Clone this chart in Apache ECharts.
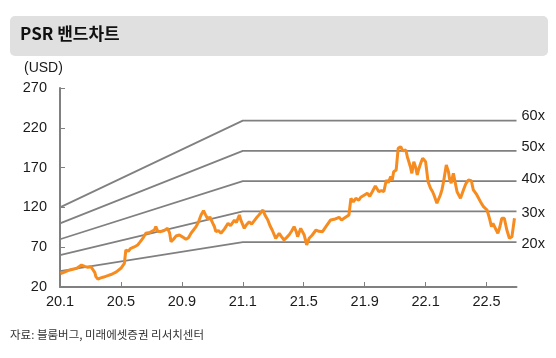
<!DOCTYPE html>
<html><head><meta charset="utf-8">
<script src="https://cdn.jsdelivr.net/npm/echarts@6/dist/echarts.min.js"></script>
<style>html,body{margin:0;padding:0;background:#fff}#c{width:556px;height:358px}</style>
</head><body><div id="c"></div>
<script>
// ---- data ----
const dates = [
'2020-01-02','2020-01-09','2020-01-17','2020-01-25','2020-02-04','2020-02-13','2020-02-19','2020-02-25','2020-03-02','2020-03-06',
'2020-03-10','2020-03-12','2020-03-16','2020-03-22','2020-03-28','2020-04-05','2020-04-13','2020-04-22','2020-05-01','2020-05-08',
'2020-05-11','2020-05-16','2020-05-21','2020-05-27','2020-06-04','2020-06-08','2020-06-14','2020-06-20','2020-06-28','2020-07-02',
'2020-07-07','2020-07-10','2020-07-14','2020-07-20','2020-07-27','2020-08-03','2020-08-07','2020-08-10','2020-08-15','2020-08-20',
'2020-08-27','2020-09-02','2020-09-09','2020-09-14','2020-09-19','2020-09-29','2020-10-04','2020-10-09','2020-10-14','2020-10-18',
'2020-10-23','2020-10-27','2020-11-02','2020-11-05','2020-11-08','2020-11-13','2020-11-18','2020-11-25','2020-12-02','2020-12-07',
'2020-12-15','2020-12-19','2020-12-25','2020-12-28','2021-01-04','2021-01-08','2021-01-14','2021-01-19','2021-01-28','2021-02-02',
'2021-02-10','2021-02-14','2021-02-19','2021-02-23','2021-02-27','2021-03-06','2021-03-13','2021-03-18','2021-03-23','2021-03-28',
'2021-04-02','2021-04-07','2021-04-12','2021-04-16','2021-04-19','2021-04-25','2021-05-02','2021-05-07','2021-05-12','2021-05-18',
'2021-05-26','2021-06-01','2021-06-08','2021-06-16','2021-06-24','2021-07-01','2021-07-11','2021-07-16','2021-07-21','2021-07-31',
'2021-08-04','2021-08-09','2021-08-14','2021-08-20','2021-08-24','2021-08-30','2021-09-06','2021-09-11','2021-09-16','2021-09-22',
'2021-09-29','2021-10-04','2021-10-09','2021-10-14','2021-10-18','2021-10-23','2021-10-26','2021-10-29','2021-11-03','2021-11-07',
'2021-11-12','2021-11-16','2021-11-22','2021-11-25','2021-12-01','2021-12-04','2021-12-08','2021-12-12','2021-12-15','2021-12-18',
'2021-12-22','2021-12-26','2022-01-01','2022-01-06','2022-01-11','2022-01-15','2022-01-18','2022-01-24','2022-01-31','2022-02-03',
'2022-02-06','2022-02-11','2022-02-15','2022-02-17','2022-02-20','2022-02-24','2022-03-03','2022-03-10','2022-03-16','2022-03-21',
'2022-03-26','2022-04-01','2022-04-05','2022-04-12','2022-04-19','2022-04-25','2022-05-02','2022-05-07','2022-05-11','2022-05-14',
'2022-05-18','2022-05-24','2022-05-28','2022-06-01','2022-06-06','2022-06-11','2022-06-16','2022-06-21','2022-06-26'
];
const prices = [
37,38.5,40.5,42,43.5,47.6,46,44.7,45.5,44.7,
38,33,30,31.5,32.5,34.2,36,39,43.5,49.8,
66.5,65,68.6,70,72.8,76,81,87.5,88.5,90,
91.6,95.8,90,89.5,91,93.7,88,76.9,80,84,
85.3,83,79.9,82,87.5,95.8,102,110.5,115.9,111,
105,108,100,96,89.5,91,87.5,93,100,97,
104,101,110.5,104,93.7,98,102,99,106.3,110,
116.7,110,104.2,97,91.6,81.2,87.5,83,79,82,
85.3,90,95.8,90,83.2,93.7,85.3,72.8,81.2,85,
91.6,90,89.5,97,104.2,105,107.6,104,106.3,110.5,
131.4,127,131.4,129,132.7,135,137.7,134,139.7,146.9,
139.7,141,139.7,154.4,151,158.6,154,164.8,167,194.2,
196.3,191,192.1,183.7,171.1,162.8,177.4,170,160.7,168,
175.4,181.7,177.4,152.3,144,140,135.6,125.2,135.6,142,
152.3,173.3,164.8,156,150.3,162.8,139.7,131.4,141.9,150,
154.4,153.5,141.9,135.6,127.2,120.9,116.7,106.3,95.8,100,
97.9,87.5,95,106.3,106.3,91.6,81.2,83.2,106.3
];
const bandNames = ['60x','50x','40x','30x','20x'];
const bandDates = ['2020-01-01','2021-01-01','2022-06-30'];
const bandStartValues = [120,100,80,60,40];
const bandFlatValues = [229,191,153,115,76.5];
const xTickLabels = ['20.1','20.5','20.9','21.1','21.5','21.9','22.1','22.5'];
const yMin = 20, yMax = 270, yStep = 50;
const titleText = 'PSR 밴드차트';
const unitText = '(USD)';
const sourceText = '자료: 블룸버그, 미래에셋증권 리서치센터';

// ---- helpers ----
function mIdx(s){
  const [y,m,d] = s.split('-').map(Number);
  const dim = new Date(y, m, 0).getDate();
  return (y-2020)*12 + (m-1) + (d-1)/dim;
}
const xTickValues = xTickLabels.map((_, i) => i*4);
const labelOffsets = [-5,-4,-2,2,1.5];
const FONT = '"Liberation Sans", Arial, "Noto Sans CJK KR", sans-serif';
const KFONT = '"Noto Sans CJK KR", "Liberation Sans", sans-serif';

const bandSeries = bandNames.map((n, i) => ({
  type: 'line', name: n, showSymbol: false, silent: true, z: 2,
  data: [[mIdx(bandDates[0]), bandStartValues[i]], [mIdx(bandDates[1]), bandFlatValues[i]], [mIdx(bandDates[2]), bandFlatValues[i]]],
  lineStyle: {color: '#808080', width: 1.8},
  endLabel: {show: true, formatter: n, color: '#1a1a1a', fontSize: 14.5, fontFamily: FONT, distance: 5, offset: [0, labelOffsets[i]]}
}));

const chart = echarts.init(document.getElementById('c'), null, {renderer: 'canvas'});
chart.setOption({
  animation: false,
  backgroundColor: '#fff',
  grid: {left: 60, right: 39.5, top: 88, bottom: 71, containLabel: false},
  xAxis: {
    type: 'value', min: 0, max: mIdx(bandDates[2]), interval: 4,
    splitLine: {show: false},
    axisLine: {lineStyle: {color: '#808080', width: 2}},
    axisTick: {inside: true, length: 5, customValues: xTickValues, lineStyle: {color: '#808080', width: 1}},
    axisLabel: {customValues: xTickValues, margin: 8, fontSize: 14.5, color: '#1a1a1a', fontFamily: FONT,
      formatter: v => xTickLabels[Math.round(v/4)] || ''}
  },
  yAxis: {
    type: 'value', min: yMin, max: yMax, interval: yStep,
    splitLine: {show: false},
    axisLine: {show: true, lineStyle: {color: '#808080', width: 2}},
    axisTick: {show: true, inside: true, length: 5, lineStyle: {color: '#808080', width: 1}},
    axisLabel: {margin: 13, fontSize: 14.5, color: '#1a1a1a', fontFamily: FONT}
  },
  graphic: [
    {type: 'rect', shape: {x: 10, y: 16, width: 538, height: 40, r: 5}, style: {fill: '#e0e0e0'}, z: 0},
    {type: 'text', left: 20, top: 25, style: {text: titleText, font: 'bold 17px ' + KFONT, fill: '#111'}},
    {type: 'text', left: 24, top: 61, style: {text: unitText, font: '14px ' + FONT, fill: '#1a1a1a'}},
    {type: 'text', left: 10, top: 329, style: {text: sourceText, font: '11.5px ' + KFONT, fill: '#333'}}
  ],
  series: bandSeries.concat([{
    type: 'line', name: 'price', showSymbol: false, z: 3,
    data: dates.map((d, i) => [mIdx(d), prices[i]]),
    lineStyle: {color: '#F68B1F', width: 3},
    itemStyle: {color: '#F68B1F'}
  }])
});
</script></body></html>
